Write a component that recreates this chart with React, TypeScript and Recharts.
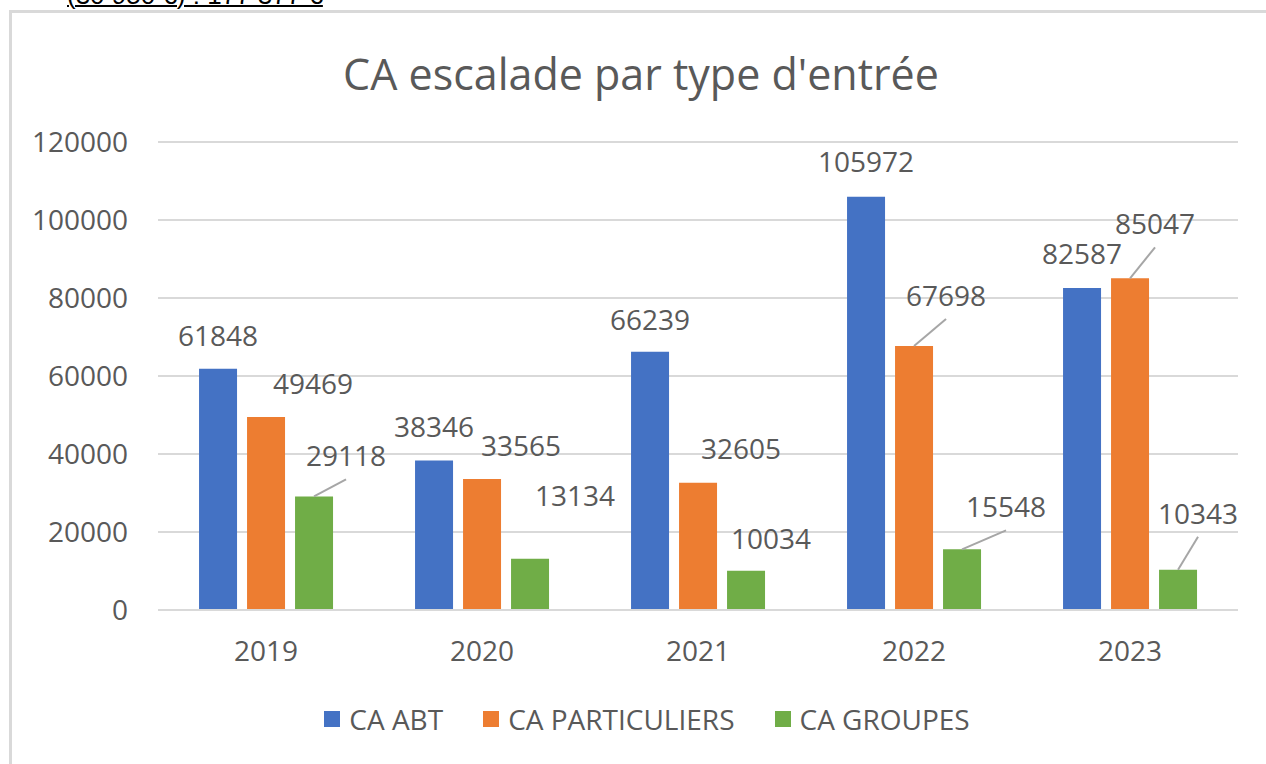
import { BarChart, Bar, XAxis, YAxis, CartesianGrid, Legend } from 'recharts';

const years = ['2019', '2020', '2021', '2022', '2023'];
const caAbt = [61848, 38346, 66239, 105972, 82587];
const caParticuliers = [49469, 33565, 32605, 67698, 85047];
const caGroupes = [29118, 13134, 10034, 15548, 10343];
const yTicks = [0, 20000, 40000, 60000, 80000, 100000, 120000];

const series = [
  { key: 'abt', name: 'CA ABT', values: caAbt, color: '#4472C4' },
  { key: 'part', name: 'CA PARTICULIERS', values: caParticuliers, color: '#ED7D31' },
  { key: 'grp', name: 'CA GROUPES', values: caGroupes, color: '#70AD47' },
];

// label placement like Excel: [dx from bar centre, dy from bar top, leader line]
const labelOffsets: [number, number, boolean][][] = [
  [[0, -34, false], [0, -34, false], [0, -33, false], [0, -36, false], [0, -35, false]],
  [[47, -34, false], [39, -34, false], [43, -35, false], [32, -51, true], [25, -55, true]],
  [[32, -41, true], [45, -64, false], [25, -33, false], [44, -43, true], [20, -57, true]],
];

const data = years.map((year, i) => ({
  year,
  abt: caAbt[i],
  part: caParticuliers[i],
  grp: caGroupes[i],
}));

const FONT = '"Open Sans", sans-serif';
const TEXT = '#595959';
const GRID = '#d9d9d9';

const makeLabel = (s: number) => (props: any) => {
  const { x, y, width, value, index } = props;
  const [dx, dy, leader] = labelOffsets[s][index];
  const cx = x + width / 2;
  const lx = cx + dx;
  const ly = y + dy;
  return (
    <g>
      {leader && <line x1={cx} y1={y} x2={lx} y2={ly + 24} stroke="#a6a6a6" strokeWidth={2} />}
      <text x={lx} y={ly} textAnchor="middle" dominantBaseline="central" fill={TEXT} fontSize={28} fontFamily={FONT}>
        {value}
      </text>
    </g>
  );
};

const LegendContent = () => (
  <div style={{ display: 'flex', justifyContent: 'center', gap: 40, fontFamily: FONT, fontSize: 28, color: TEXT }}>
    {series.map((s) => (
      <div key={s.key} style={{ display: 'flex', alignItems: 'center' }}>
        <span style={{ width: 16, height: 16, background: s.color, marginRight: 9, display: 'inline-block' }} />
        <span>{s.name}</span>
      </div>
    ))}
  </div>
);

export default function App() {
  return (
    <div style={{ position: 'absolute', left: 0, top: 0, width: 1266, height: 764, overflow: 'hidden', background: '#fff' }}>
      <div
        style={{
          position: 'absolute', left: 67, top: -18, fontFamily: '"Liberation Sans", Arial, sans-serif',
          fontSize: 26, lineHeight: '26px', textDecoration: 'underline', textDecorationThickness: 2,
          color: '#000', whiteSpace: 'nowrap',
        }}
      >
        (30 950 €) : 177 377 €
      </div>
      <div
        style={{
          position: 'absolute', left: 9, top: 10, width: 1400, height: 900,
          borderLeft: `3px solid ${GRID}`, borderTop: `3px solid ${GRID}`,
        }}
      />
      <div
        style={{
          position: 'absolute', left: 0, width: 1282, top: 47, textAlign: 'center',
          fontFamily: FONT, fontSize: 43, color: TEXT, lineHeight: '54px',
        }}
      >
        CA escalade par type d'entrée
      </div>
      <div style={{ position: 'absolute', left: 0, top: 0 }}>
        <BarChart
          width={1266}
          height={764}
          data={data}
          margin={{ top: 142, right: 28, bottom: 114, left: 28 }}
          barCategoryGap="19%"
          barGap={10}
        >
          <CartesianGrid vertical={false} stroke={GRID} strokeWidth={2} />
          <XAxis
            dataKey="year"
            height={40}
            tickLine={false}
            tickSize={0}
            tickMargin={31}
            axisLine={{ stroke: GRID, strokeWidth: 2 }}
            tick={{ fill: TEXT, fontSize: 28, fontFamily: FONT }}
          />
          <YAxis
            width={130}
            domain={[0, 120000]}
            ticks={yTicks}
            interval={0}
            tickLine={false}
            tickSize={0}
            tickMargin={30}
            axisLine={false}
            tick={{ fill: TEXT, fontSize: 28, fontFamily: FONT }}
          />
          {series.map((s, i) => (
            <Bar key={s.key} dataKey={s.key} name={s.name} fill={s.color} isAnimationActive={false} label={makeLabel(i)} />
          ))}
          <Legend
            layout="horizontal"
            verticalAlign="middle"
            align="center"
            content={LegendContent}
            wrapperStyle={{ top: 700, left: 0, width: 1294 }}
          />
        </BarChart>
      </div>
    </div>
  );
}
